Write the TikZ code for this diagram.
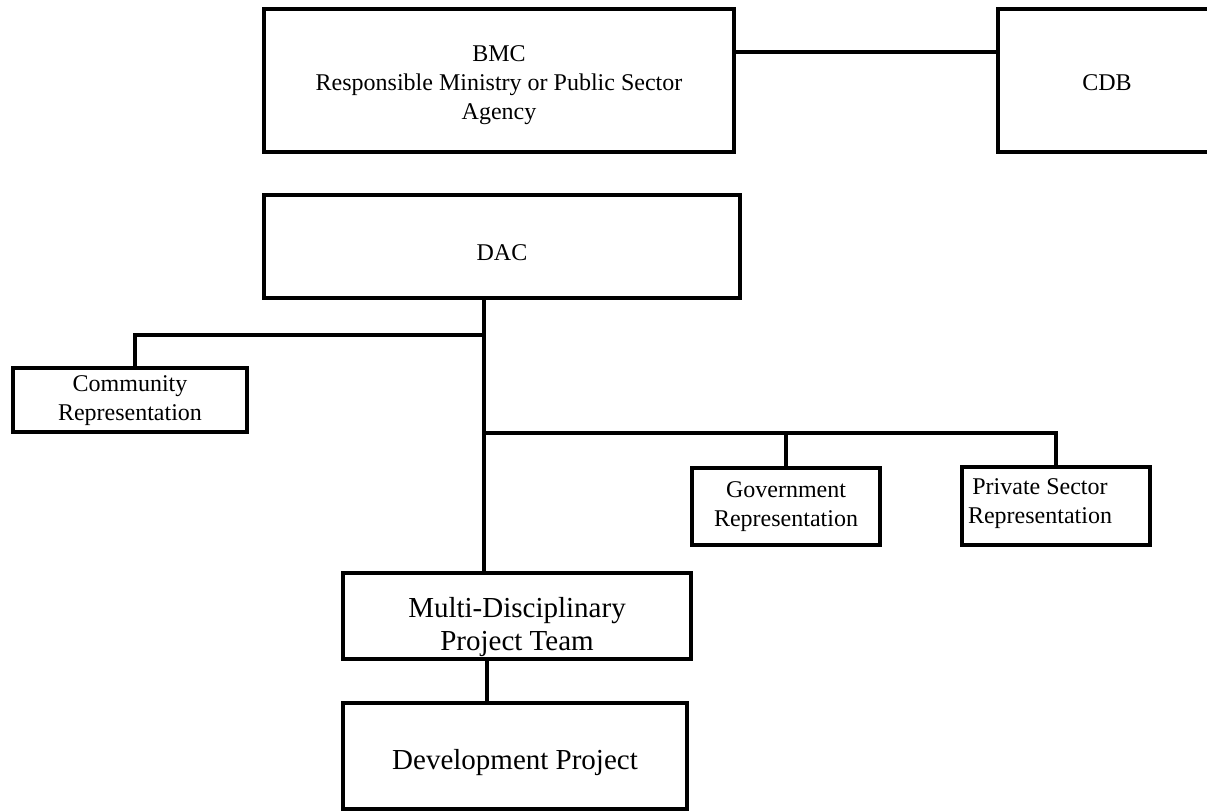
\documentclass[tikz,border=0pt]{standalone}
\usepackage{fontspec}
\setmainfont{Liberation Serif}
\newcommand{\smfnt}{\fontsize{24}{29}\selectfont}
\newcommand{\lgfnt}{\fontsize{29}{33}\selectfont}
\begin{document}
\begin{tikzpicture}[x=1pt,y=-1pt,
  box/.style={draw, line width=4pt, rectangle, inner sep=0pt, outer sep=0pt},
  txt/.style={font=\smfnt, align=center, inner sep=0pt},
  bigtxt/.style={font=\lgfnt, align=center, inner sep=0pt},
  conn/.style={line width=4pt, line join=miter}]
\path[use as bounding box] (0,0) rectangle (1207,811);
\clip (0,0) rectangle (1207,811);
\node[box, minimum width=470pt, minimum height=143pt,
  label={[txt, yshift=-5pt]center:BMC\\Responsible Ministry or Public Sector\\Agency}] (bmc) at (499,80.5) {};
\node[box, minimum width=218pt, minimum height=143pt,
  label={[txt, yshift=-2pt]center:CDB}] (cdb) at (1107,80.5) {};
\node[box, minimum width=476pt, minimum height=103pt,
  label={[txt, yshift=-6pt]center:DAC}] (dac) at (502,246.5) {};
\node[box, minimum width=234pt, minimum height=64pt,
  label={[txt, yshift=-1pt]center:Community\\Representation}] (comm) at (130,400) {};
\node[box, minimum width=188pt, minimum height=77pt,
  label={[txt]center:Government\\Representation}] (gov) at (786,506.5) {};
\node[box, minimum width=188pt, minimum height=78pt,
  label={[txt, xshift=-16pt, yshift=2pt]center:Private Sector\\Representation}] (priv) at (1056,506) {};
\node[box, minimum width=348pt, minimum height=86pt,
  label={[bigtxt, yshift=-11pt]center:Multi-Disciplinary\\Project Team}] (mdpt) at (517,616) {};
\node[box, minimum width=344pt, minimum height=106pt,
  label={[bigtxt, yshift=-7pt]center:Development Project}] (dev) at (515,756) {};
\coordinate (j1) at (484,335);
\coordinate (j2) at (484,433);
\coordinate (cx) at (135,335);
\coordinate (dx) at (487,0);
\draw[conn] (bmc.east |- 0,52) -- (cdb.west |- 0,52);
\draw[conn] (dac.south -| j1) -- (mdpt.north -| j1);
\draw[conn] (j1) -- (cx) -- (comm.north -| cx);
\draw[conn] (j2) -| (priv.north);
\draw[conn] (gov.north) -- (gov.north |- j2);
\draw[conn] (mdpt.south -| dx) -- (dev.north -| dx);
\end{tikzpicture}
\end{document}
